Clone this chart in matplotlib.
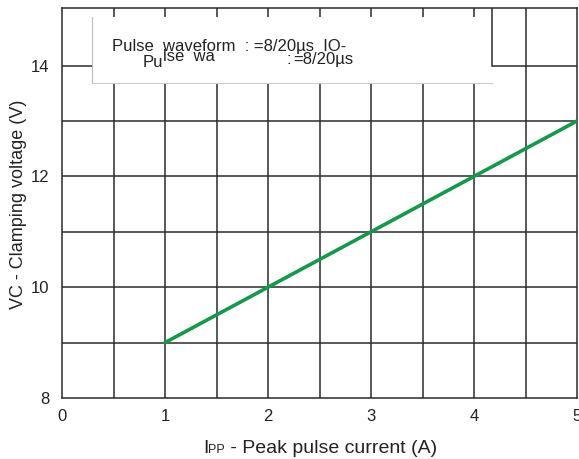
import matplotlib
matplotlib.use("Agg")
import matplotlib.pyplot as plt
from matplotlib.patches import Rectangle

plt.rcParams['font.family'] = ['Liberation Sans', 'DejaVu Sans']

# data
ipp = [1, 2, 3, 4, 5]
vc = [9, 10, 11, 12, 13]
xticks = [0, 1, 2, 3, 4, 5]
yticks = [8, 10, 12, 14]
xgrid = [0.5, 1, 1.5, 2, 2.5, 3, 3.5, 4, 4.5]
ygrid = [9, 10, 11, 12, 13]

W, H = 579, 459
fig = plt.figure(figsize=(W / 100, H / 100), dpi=100)
ax = fig.add_axes([62 / W, 1 - 398 / H, 515 / W, 390 / H])
ax.set_xlim(0, 5)
ax.set_ylim(8, 15.04)

grid_kw = dict(color='#2b2b2b', lw=1.1, zorder=1)
for x in xgrid:
    ax.axvline(x, **grid_kw)
for y in ygrid:
    ax.axhline(y, **grid_kw)
ax.axhline(14, **grid_kw)

# white legend box covering part of the grid
bx0, bx1, by0, by1 = 0.29, 4.17, 13.68, 14.88
ax.add_patch(Rectangle((bx0, by0), bx1 - bx0, by1 - by0, facecolor='white',
                       edgecolor='none', zorder=2))
ax.plot([bx0, bx0], [by0, by1], color='#bbbbbb', lw=0.8, zorder=3)
ax.plot([bx0, bx1], [by0, by0], color='#cccccc', lw=0.8, zorder=3)
ax.plot([bx1, bx1], [14, 15.04], color='#2b2b2b', lw=1.1, zorder=3)

ax.plot(ipp, vc, color='#14994a', lw=2.6, zorder=4, solid_capstyle='round')

for s in ax.spines.values():
    s.set_color('#2b2b2b')
    s.set_linewidth(1.1)
ax.set_xticks(xticks)
ax.set_yticks(yticks)
ax.tick_params(length=0, labelsize=12, labelcolor='#222222', pad=8)
ax.tick_params(axis='y', pad=9)


def px(x, y):
    return x / W, 1 - y / H


tk = dict(fontsize=12, color='#222222', va='baseline', ha='left')
fig.text(*px(112, 51), "Pulse  waveform  : =8/20µs  IO-", **tk)
fig.text(*px(143, 67), "Pu", **tk)
fig.text(*px(163, 61), "lse  wa", **tk)
fig.text(*px(286, 64), ":", **tk)
fig.text(*px(293, 64), "=8/20µs", **tk)

ax.text(-0.42, 11.5, "VC - Clamping voltage (V)", rotation=90, fontsize=13,
        color='#222222', ha='center', va='center', transform=ax.transData)

# x label with small-caps "PP"
fig.canvas.draw()
r = fig.canvas.get_renderer()
parts = [("I", 14), ("PP", 9), (" - Peak pulse current (A)", 14)]
texts = []
for s, fs in parts:
    texts.append(fig.text(0, 0, s, fontsize=fs, color='#222222', va='baseline'))
widths = [t.get_window_extent(r).width for t in texts]
x0 = 320 - sum(widths) / 2
for t, w in zip(texts, widths):
    t.set_position(px(x0, 453))
    x0 += w

fig.savefig("out.png", dpi=100)
